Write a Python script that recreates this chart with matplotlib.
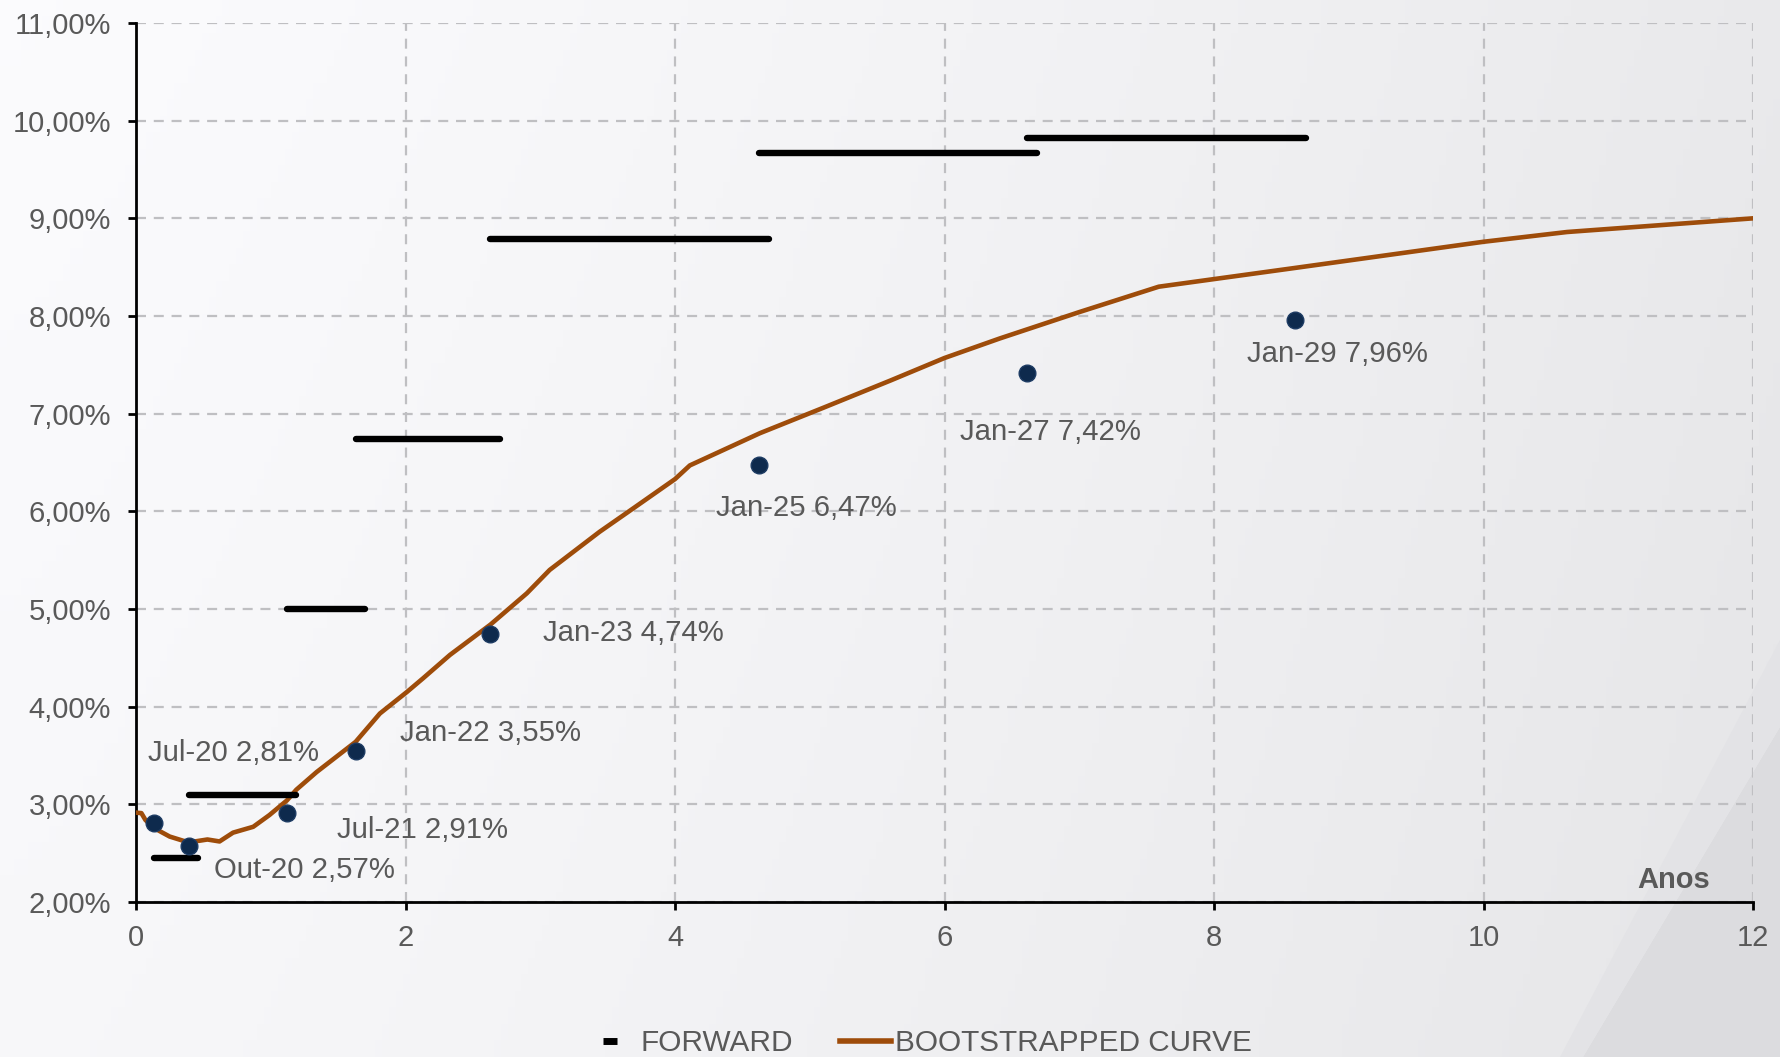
import numpy as np
import matplotlib
matplotlib.use("Agg")
import matplotlib.pyplot as plt
from matplotlib.lines import Line2D
from matplotlib.patches import Polygon
from matplotlib.ticker import FuncFormatter

plt.rcParams['font.family'] = ['Liberation Sans', 'DejaVu Sans']

# bootstrapped curve (years, %)
curve_x = [0, 0.04, 0.07, 0.13, 0.25, 0.39, 0.53, 0.62, 0.72, 0.87, 0.99, 1.12, 1.19, 1.34,
           1.63, 1.81, 2.01, 2.13, 2.33, 2.63, 2.90, 3.07, 3.44, 3.70, 4.00, 4.11, 4.63,
           5.10, 5.60, 6.00, 6.41, 7.00, 7.59, 8.59, 10.0, 10.62, 12.0]
curve_y = [2.915, 2.91, 2.84, 2.76, 2.67, 2.61, 2.64, 2.62, 2.71, 2.77, 2.89, 3.04, 3.15, 3.33,
           3.64, 3.93, 4.15, 4.29, 4.53, 4.84, 5.16, 5.40, 5.79, 6.04, 6.33, 6.47, 6.80,
           7.06, 7.34, 7.57, 7.77, 8.04, 8.30, 8.49, 8.76, 8.86, 9.00]

# DI futures points
pt_names = ['Jul-20', 'Out-20', 'Jul-21', 'Jan-22', 'Jan-23', 'Jan-25', 'Jan-27', 'Jan-29']
pt_x = [0.13, 0.39, 1.12, 1.63, 2.63, 4.62, 6.61, 8.60]
pt_y = [2.81, 2.57, 2.91, 3.55, 4.74, 6.47, 7.42, 7.96]

# forward segments
fwd_start = [0.13, 0.39, 1.12, 1.63, 2.63, 4.62, 6.61]
fwd_end = [0.46, 1.19, 1.70, 2.70, 4.70, 6.69, 8.68]
fwd_rate = [2.45, 3.10, 5.00, 6.74, 8.79, 9.67, 9.82]

grey = '#595959'
brown = '#9e4c0a'
navy = '#0e2a4d'

fig = plt.figure(figsize=(17.8, 10.57), dpi=100)

# background
bg = fig.add_axes([0, 0, 1, 1], zorder=-10)
bg.axis('off')
gx = np.linspace(0, 1, 256)
gy = np.linspace(0, 1, 64)
GX, GY = np.meshgrid(gx, gy)
val = 0.985 - 0.07 * GX ** 1.3 - 0.015 * GY
bg.imshow(np.dstack([val, val, val + 0.008]).clip(0, 1), extent=[0, 1, 0, 1],
          aspect='auto', origin='upper')
bg.add_patch(Polygon([(1.0, 1 - 727 / 1057), (1583 / 1780, 0), (1, 0)],
                     closed=True, color='#dcdcdf', lw=0))
bg.add_patch(Polygon([(1.0, 1 - 640 / 1057), (1560 / 1780, 0), (1583 / 1780, 0), (1.0, 1 - 727 / 1057)],
                     closed=True, color='#e3e3e6', lw=0))
bg.set_xlim(0, 1)
bg.set_ylim(0, 1)

ax = fig.add_axes([136 / 1780, 1 - 902 / 1057, (1753 - 136) / 1780, (902 - 23) / 1057])
ax.set_facecolor('none')

ax.plot(curve_x, curve_y, color=brown, lw=3.3, zorder=3, solid_joinstyle='round')
ax.hlines(fwd_rate, fwd_start, fwd_end, colors='black', lw=4.6, zorder=4, capstyle='round')
ax.plot(pt_x, pt_y, 'o', color=navy, markeredgecolor='#1d3b63', markersize=12, zorder=5)

offsets = [(80, 70, 'center'), (25, -24, 'left'), (50, -17, 'left'), (44, 18, 'left'),
           (53, 1, 'left'), (-43, -43, 'left'), (-67, -59, 'left'), (-48, -34, 'left')]
for name, x, y, (dx, dy, ha) in zip(pt_names, pt_x, pt_y, offsets):
    lbl = f"{name} {y:.2f}%".replace('.', ',')
    ax.annotate(lbl, (x, y), xytext=(dx, dy), textcoords='offset pixels',
                ha=ha, va='center', fontsize=21.2, color=grey)

ax.set_xlim(0, 12)
ax.set_ylim(2, 11)
ax.set_xticks(range(0, 13, 2))
ax.set_yticks(range(2, 12))
ax.yaxis.set_major_formatter(FuncFormatter(lambda v, p: f"{v:.2f}%".replace('.', ',')))
ax.grid(True, color='#bfbfc2', lw=1.6, linestyle=(0, (4.5, 3.5)))
ax.set_axisbelow(True)
for s in ['top', 'right']:
    ax.spines[s].set_visible(False)
for s in ['left', 'bottom']:
    ax.spines[s].set_linewidth(2)
ax.tick_params(axis='both', colors='black', labelcolor=grey, labelsize=21, width=2, length=6)
ax.tick_params(axis='y', pad=12)
ax.tick_params(axis='x', pad=10)

ax.text(0.951, 0.025, 'Anos', transform=ax.transAxes, ha='center', va='center',
        fontsize=21, fontweight='bold', color=grey)

handles = [Line2D([], [], color='black', marker='_', linestyle='none', markersize=10, mew=5),
           Line2D([], [], color=brown, lw=4)]
fig.legend(handles, ['FORWARD', 'BOOTSTRAPPED CURVE'], loc='center',
           bbox_to_anchor=(0.516, 0.013), ncol=2, frameon=False, fontsize=21.4,
           labelcolor=grey, handlelength=1.7, handletextpad=0.15, columnspacing=1.6)

fig.savefig('out.png', dpi=100)
